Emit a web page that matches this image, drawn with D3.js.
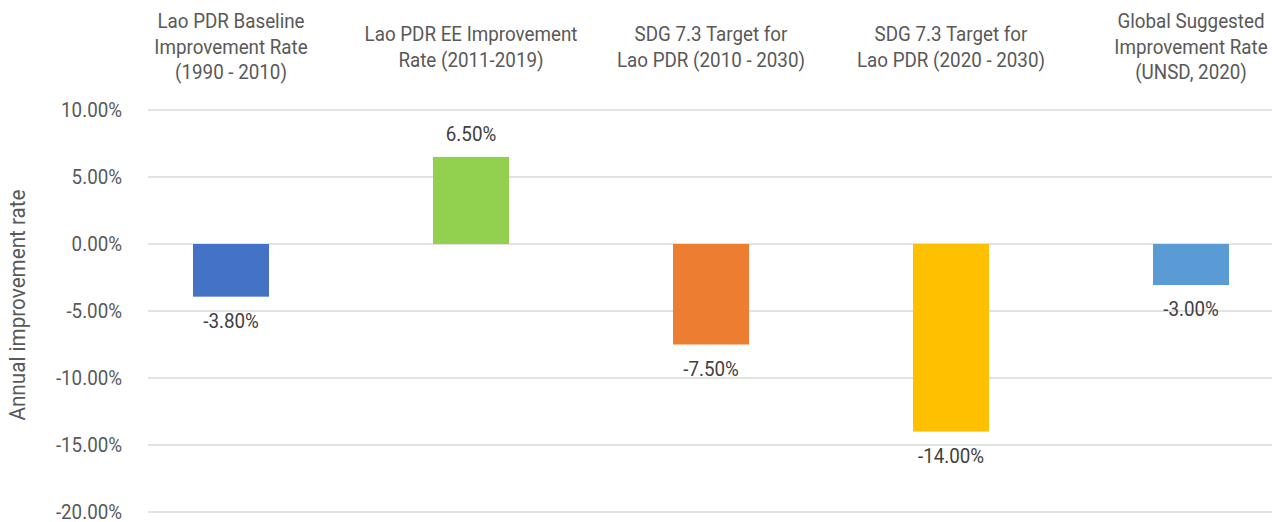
<!DOCTYPE html>
<html>
<head>
<meta charset="utf-8">
<script src="https://cdn.jsdelivr.net/npm/d3@7"></script>
<style>
  body { margin: 0; background: #fff; }
  svg { display: block; font-family: Roboto, sans-serif; }
</style>
</head>
<body>
<svg id="chart" width="1272" height="522"></svg>
<script>
const categories = [
  ['Lao PDR Baseline', 'Improvement Rate', '(1990 - 2010)'],
  ['Lao PDR EE Improvement', 'Rate (2011-2019)'],
  ['SDG 7.3 Target for', 'Lao PDR (2010 - 2030)'],
  ['SDG 7.3 Target for', 'Lao PDR (2020 - 2030)'],
  ['Global Suggested', 'Improvement Rate', '(UNSD, 2020)']
]
const values = [-3.93, 6.5, -7.5, -14.0, -3.06]
const valueLabels = ['-3.80%', '6.50%', '-7.50%', '-14.00%', '-3.00%']
const colors = ['#4472C4', '#92D050', '#ED7D31', '#FFC000', '#5B9BD5']
const yTicks = [10, 5, 0, -5, -10, -15, -20]

const width = 1272
const gridLeft = 148
// the original font is a narrow one, so squeeze Roboto a little
const squeeze = 'scale(0.94, 1)'

const svg = d3.select('#chart')

const pad = 0.6833
const x = d3.scaleBand()
  .domain(d3.range(values.length))
  .range([111, 1311])
  .paddingInner(pad)
  .paddingOuter(pad / 2)

const y = d3.scaleLinear().domain([-20, 10]).range([512, 110])

// gridlines
svg.append('g')
  .selectAll('line')
  .data(yTicks)
  .join('line')
  .attr('x1', gridLeft)
  .attr('x2', width)
  .attr('y1', d => y(d))
  .attr('y2', d => y(d))
  .style('stroke', '#D9D9D9')
  .style('stroke-width', 1.5)

// y axis labels
const yAxis = d3.axisLeft(y)
  .tickValues(yTicks)
  .tickFormat(d => d.toFixed(2) + '%')
  .tickSize(0)
  .tickPadding(0)

svg.append('g')
  .attr('transform', 'translate(122, 0)')
  .call(yAxis)
  .call(g => g.select('.domain').remove())
  .call(g => g.selectAll('text')
    .attr('transform', squeeze)
    .style('font-family', 'Roboto, sans-serif')
    .style('font-size', '20px')
    .style('fill', '#595959'))

// axis title
svg.append('text')
  .attr('transform', `translate(25, 305) rotate(-90) ${squeeze}`)
  .attr('text-anchor', 'middle')
  .style('font-size', '22px')
  .style('fill', '#595959')
  .text('Annual improvement rate')

// bars
svg.append('g')
  .selectAll('rect')
  .data(values)
  .join('rect')
  .attr('x', (d, i) => x(i))
  .attr('width', x.bandwidth())
  .attr('y', d => y(Math.max(0, d)))
  .attr('height', d => Math.abs(y(d) - y(0)))
  .style('fill', (d, i) => colors[i])

// value labels
svg.append('g')
  .selectAll('text')
  .data(values)
  .join('text')
  .attr('transform', (d, i) => {
    const cx = x(i) + x.bandwidth() / 2
    const ty = d >= 0 ? y(d) - 16 : y(d) + 31
    return `translate(${cx}, ${ty}) ${squeeze}`
  })
  .attr('text-anchor', 'middle')
  .style('font-size', '20px')
  .style('fill', '#404040')
  .text((d, i) => valueLabels[i])

// category labels at top
const lineH = 25.5
const catG = svg.append('g')
  .selectAll('text')
  .data(categories)
  .join('text')
  .attr('transform', (d, i) => `translate(${x(i) + x.bandwidth() / 2}, 0) ${squeeze}`)
  .attr('text-anchor', 'middle')
  .style('font-size', '20px')
  .style('fill', '#595959')

catG.each(function (lines) {
  const first = 54 - (lines.length - 1) * lineH / 2
  d3.select(this).selectAll('tspan')
    .data(lines)
    .join('tspan')
    .attr('x', 0)
    .attr('y', (d, j) => first + j * lineH)
    .text(d => d)
})
</script>
</body>
</html>
